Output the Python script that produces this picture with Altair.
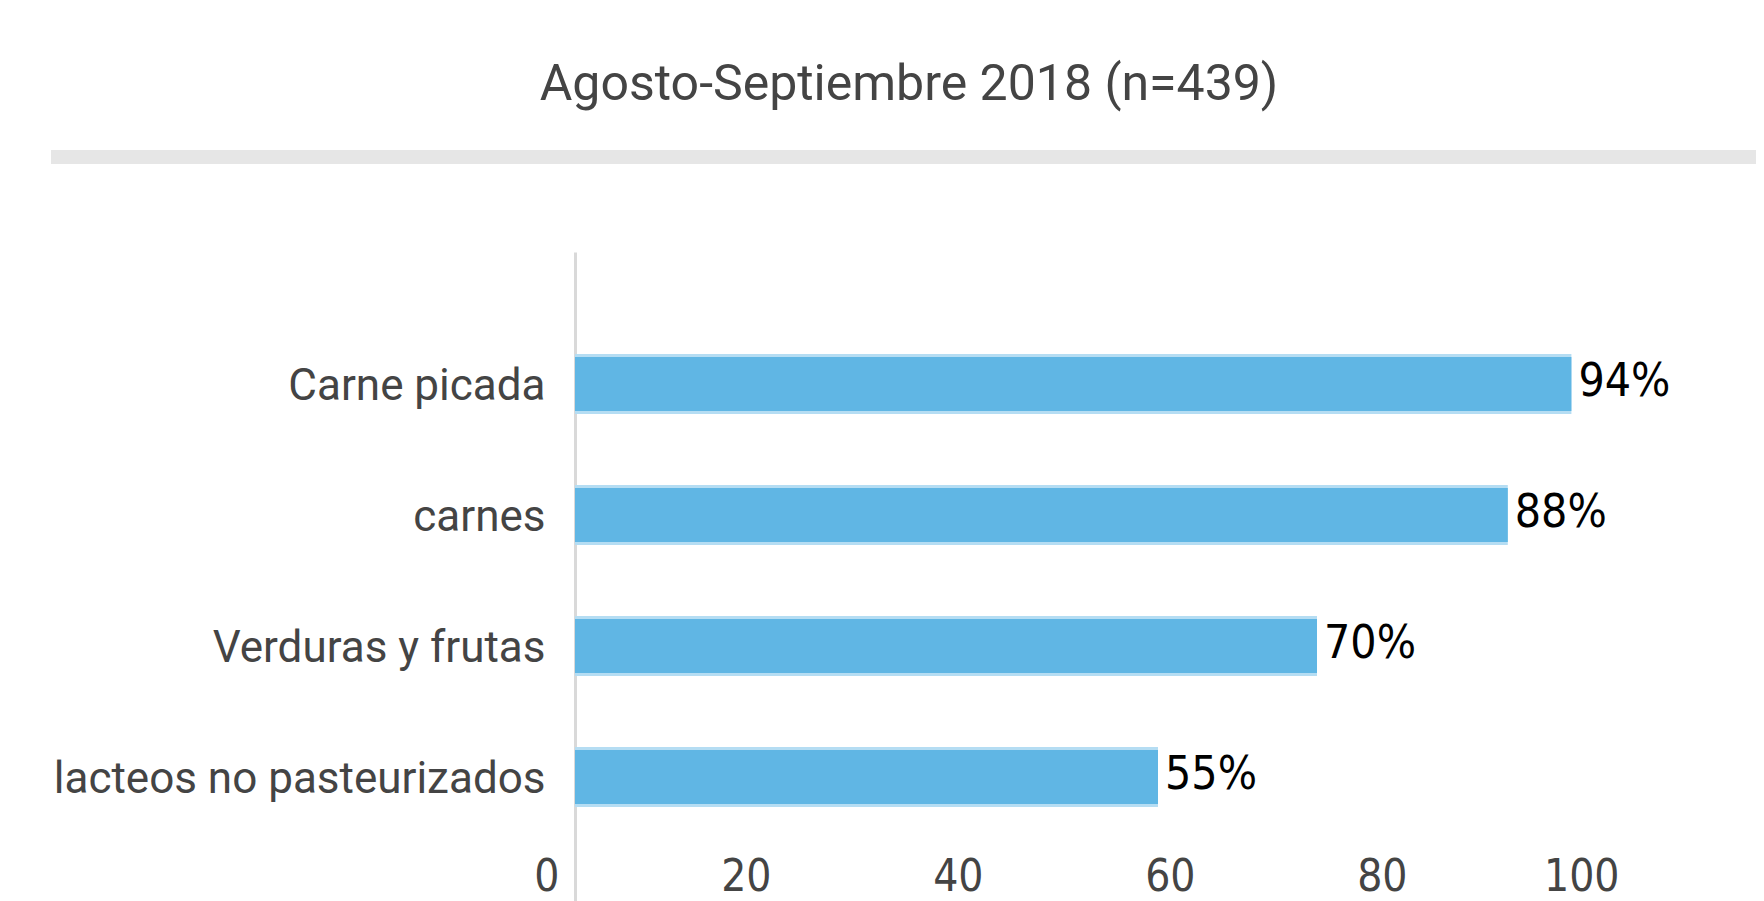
import altair as alt
import pandas as pd

# ---- data ----
categories = ["Carne picada", "carnes", "Verduras y frutas", "lacteos no pasteurizados"]
values = [94, 88, 70, 55]
value_labels = ["94%", "88%", "70%", "55%"]
x_ticks = [0, 20, 40, 60, 80, 100]
subtitle = "Agosto-Septiembre 2018 (n=439)"

df = pd.DataFrame({"cat": categories, "val": values, "lab": value_labels})

NARROW = "Liberation Sans Narrow, DejaVu Sans Condensed, Liberation Sans, sans-serif"

W = 1060
H = 649
PAD_L = 567
PAD_T = 244
PAD_R = 121

y_scale = alt.Scale(domain=categories, paddingInner=0.542, paddingOuter=0.748, align=0.5204)
x_scale = alt.Scale(domain=[0, 100], nice=False, zero=True)

y_axis = alt.Axis(
    title=None, ticks=False, grid=False, domain=True, domainColor="#d9d9d9", domainWidth=3,
    labelFont="Roboto", labelFontSize=44, labelColor="#444444", labelPadding=30,
    labelLimit=700, labelOffset=3,
)
x_axis = alt.Axis(
    title=None, values=x_ticks, ticks=False, grid=False, domain=False,
    labelFont=NARROW, labelFontSize=44, labelColor="#444444",
    labelAlign="right", labelOffset=-16, labelPadding=-24, labelBaseline="middle",
    labelFlush=False, labelOverlap=False,
)

base = alt.Chart(df)

bar_edge = base.mark_bar(color="#b5ddf3", size=60).encode(
    x=alt.X("val:Q", scale=x_scale, axis=x_axis),
    y=alt.Y("cat:N", sort=categories, scale=y_scale, axis=y_axis),
)
bar_fill = base.mark_bar(color="#60b6e4", size=54).encode(
    x=alt.X("val:Q", scale=x_scale),
    y=alt.Y("cat:N", sort=categories, scale=y_scale),
)
labels = base.mark_text(
    align="left", baseline="middle", dx=7, dy=-2, font=NARROW, fontSize=46, color="#000000"
).encode(
    x=alt.X("val:Q", scale=x_scale),
    y=alt.Y("cat:N", sort=categories, scale=y_scale),
    text="lab:N",
)

separator = base.mark_rule(color="#e6e6e6", strokeWidth=14).encode(
    x=alt.value(-524), x2=alt.value(W + PAD_R), y=alt.value(-95)
)

chart = alt.layer(separator, bar_edge, bar_fill, labels).properties(
    width=W,
    height=H,
    padding={"left": PAD_L, "top": PAD_T, "right": PAD_R, "bottom": 0},
    autosize=alt.AutoSizeParams(type="none"),
    title=alt.TitleParams(
        subtitle, font="Roboto", fontSize=50, fontWeight="normal", color="#444444",
        anchor="middle", frame="group", dx=-196, offset=40,
    ),
).configure_view(stroke=None)

chart.save("out.html", embed_options={"renderer": "svg", "actions": False})
